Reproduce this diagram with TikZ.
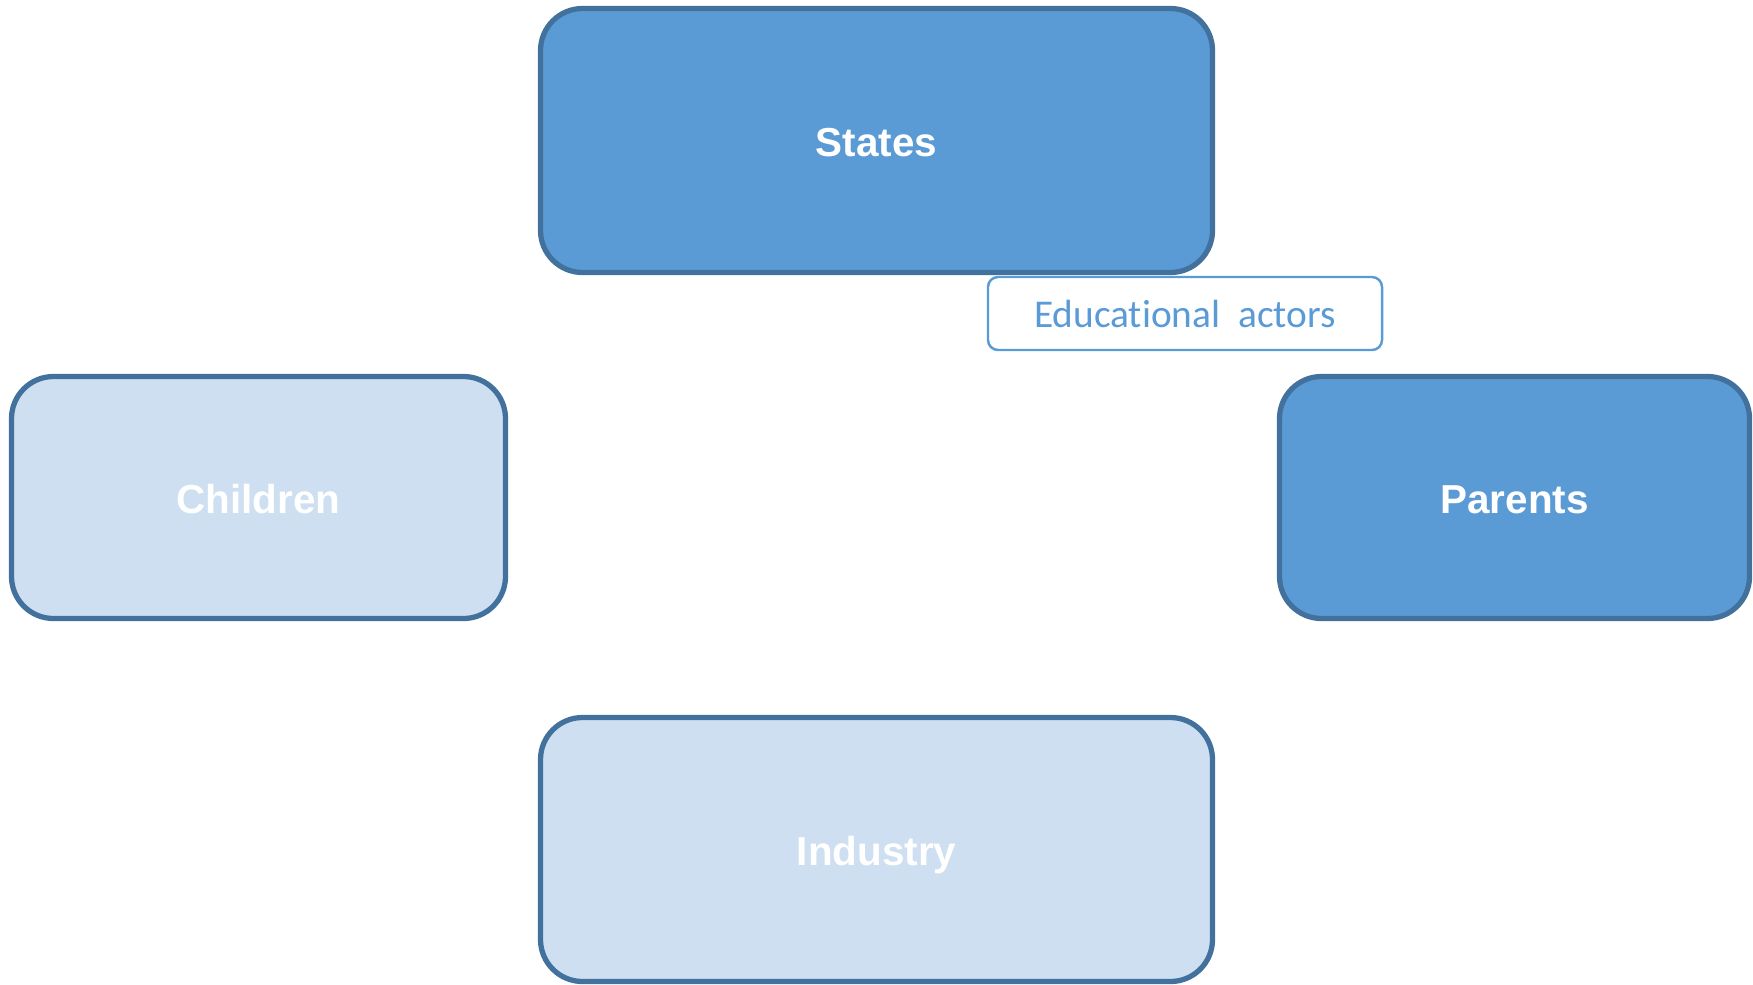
\documentclass[tikz,border=0pt]{standalone}
\usepackage{xcolor}
\usepackage{fontspec}
\setmainfont{Liberation Sans}
\newfontfamily\calfont[Ligatures=NoCommon]{Carlito}
\usepackage{tikz}
\usetikzlibrary{positioning}

\definecolor{darkfill}{HTML}{5B9BD5}
\definecolor{lightfill}{HTML}{CDDFF0}
\definecolor{edgeblue}{HTML}{41719C}

\begin{document}
\begin{tikzpicture}[
  actor/.style={draw=edgeblue, line width=1.5pt, rounded corners=0.42cm,
    text=white, font=\bfseries\fontsize{11.5}{14}\selectfont, inner sep=0pt,
    text height=0.92em, text depth=0pt},
  bigbox/.style={actor, minimum width=6.72cm, minimum height=2.64cm},
  sidebox/.style={actor, minimum height=2.42cm},
  tag/.style={draw=darkfill, line width=0.7pt, rounded corners=0.1cm, fill=white,
    text=darkfill, font=\calfont\fontsize{11.2}{14}\selectfont,
    minimum width=3.94cm, minimum height=0.73cm, inner sep=0pt}
]
  \useasboundingbox (0,0) rectangle (17.53,-9.84);

  \node[bigbox, fill=darkfill] (states) at (8.765,-1.405) {States};
  \node[sidebox, fill=lightfill, minimum width=4.94cm] (children) at (2.585,-4.975) {Children};
  \node[sidebox, fill=darkfill, minimum width=4.70cm] (parents) at (15.145,-4.975) {Parents};
  \node[bigbox, fill=lightfill] (industry) at (8.765,-8.495) {Industry};
  \node[tag] (educ) at (11.85,-3.135) {Educational\ \ actors};
\end{tikzpicture}
\end{document}
